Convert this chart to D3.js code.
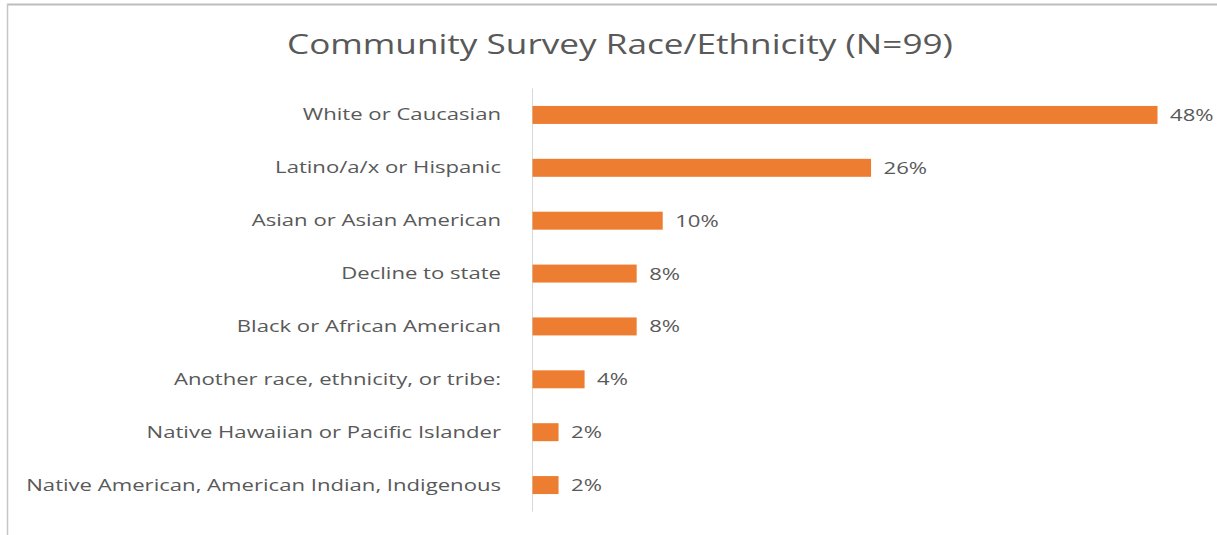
<!DOCTYPE html>
<html>
<head>
<meta charset="utf-8">
<script src="https://cdn.jsdelivr.net/npm/d3@7/dist/d3.min.js"></script>
<style>
  html, body { margin: 0; padding: 0; background: #fff; }
  svg { display: block; }
</style>
</head>
<body>
<svg id="chart" width="1217" height="535"></svg>
<script>
// Survey responses by race/ethnicity, in percent
const categories = [
  "White or Caucasian",
  "Latino/a/x or Hispanic",
  "Asian or Asian American",
  "Decline to state",
  "Black or African American",
  "Another race, ethnicity, or tribe:",
  "Native Hawaiian or Pacific Islander",
  "Native American, American Indian, Indigenous"
];
const percents = [48, 26, 10, 8, 8, 4, 2, 2];
const chartTitle = "Community Survey Race/Ethnicity (N=99)";

const svg = d3.select("#chart");
const textColor = "#595959";
const barColor = "#ED7D31";
const fontFamily = "'Open Sans', sans-serif";
const widen = 1.3; // horizontal stretch of all lettering

// stretch each text horizontally by the widen factor
function widenText(sel) {
  sel.each(function () {
    const len = this.getComputedTextLength();
    d3.select(this).attr("textLength", len * widen).attr("lengthAdjust", "spacingAndGlyphs");
  });
}

// chart frame
svg.append("line").attr("x1", 7).attr("x2", 1217).attr("y1", 4.5).attr("y2", 4.5)
  .attr("stroke", "#bdbdbd").attr("stroke-width", 2);
svg.append("line").attr("x1", 7.5).attr("x2", 7.5).attr("y1", 4).attr("y2", 535)
  .attr("stroke", "#c6c6c6").attr("stroke-width", 1.5);

// title
svg.append("text")
  .attr("x", 620).attr("y", 54)
  .attr("text-anchor", "middle")
  .attr("fill", textColor)
  .style("font-family", fontFamily)
  .style("font-size", "27px")
  .text(chartTitle)
  .call(sel => sel.each(function () {
    d3.select(this).attr("textLength", 666).attr("lengthAdjust", "spacingAndGlyphs");
  }));

const x = d3.scaleLinear().domain([0, 48]).range([532, 1157]);
const y = d3.scaleBand().domain(categories).range([88.5, 511.5])
  .paddingInner(0.66).paddingOuter(0.33);

// category axis
const yAxis = svg.append("g")
  .attr("transform", `translate(${x(0)},0)`)
  .call(d3.axisLeft(y).tickSize(0).tickPadding(31));
yAxis.select(".domain").attr("stroke", "#d9d9d9").attr("stroke-width", 1)
  .attr("d", `M0.5,${y.range()[0]}V${y.range()[1]}`);
yAxis.selectAll("text")
  .attr("fill", textColor)
  .style("font-family", fontFamily)
  .style("font-size", "17px")
  .call(widenText);

// bars
svg.append("g").selectAll("rect")
  .data(categories)
  .join("rect")
  .attr("x", x(0) + 0.5)
  .attr("y", d => y(d))
  .attr("width", (d, i) => x(percents[i]) - x(0))
  .attr("height", y.bandwidth())
  .attr("fill", barColor);

// value labels
svg.append("g").selectAll("text")
  .data(categories)
  .join("text")
  .attr("x", (d, i) => x(percents[i]) + 13)
  .attr("y", d => y(d) + y.bandwidth() / 2)
  .attr("dy", "0.35em")
  .attr("fill", textColor)
  .style("font-family", fontFamily)
  .style("font-size", "17px")
  .text((d, i) => percents[i] + "%")
  .call(widenText);
</script>
</body>
</html>
